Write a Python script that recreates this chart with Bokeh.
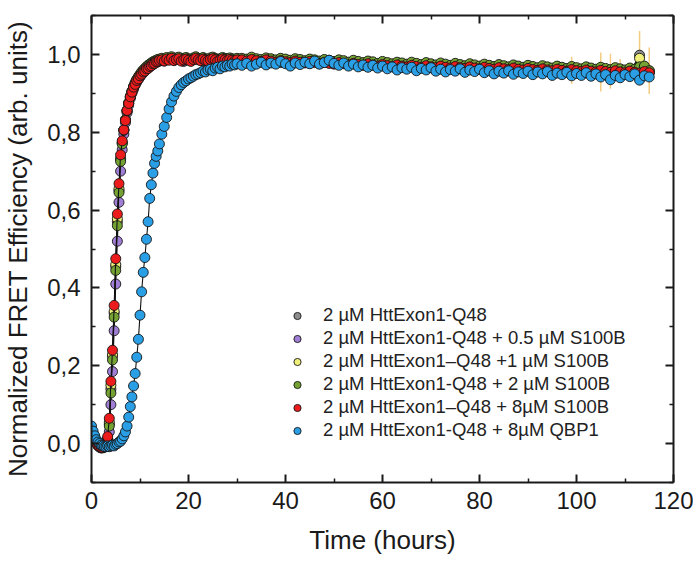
from bokeh.plotting import figure
from bokeh.models import (Range1d, LinearAxis, FixedTicker, CustomJSTickFormatter,
                          Legend, LegendItem)
from bokeh.embed import file_html
from bokeh.resources import INLINE

# ---------------- data ----------------
# time (hours)
T_RISE = [0, 0.33, 0.67, 1, 1.33, 1.67, 2, 2.33, 2.67, 3,
          3.33, 3.67, 4, 4.33, 4.67, 5, 5.33, 5.67, 6, 6.33,
          6.67, 7, 7.33, 7.67, 8, 8.33, 8.67, 9, 9.33, 9.67,
          10, 10.33, 10.67, 11, 11.33, 11.67, 12, 12.33, 12.67, 13,
          13.33, 13.67, 14]
T_MID = [14.5, 15, 15.5, 16, 16.5, 17, 17.5, 18, 18.5, 19,
         19.5, 20, 20.5, 21, 21.5, 22, 22.5, 23, 23.5, 24,
         24.5, 25, 25.5, 26, 26.5, 27, 27.5, 28, 28.5, 29,
         29.5, 30]
T_LATE = [31, 32, 33, 34, 35, 36, 37, 38, 39, 40,
          41, 42, 43, 44, 45, 46, 47, 48, 49, 50,
          51, 52, 53, 54, 55, 56, 57, 58, 59, 60,
          61, 62, 63, 64, 65, 66, 67, 68, 69, 70,
          71, 72, 73, 74, 75, 76, 77, 78, 79, 80,
          81, 82, 83, 84, 85, 86, 87, 88, 89, 90,
          91, 92, 93, 94, 95, 96, 97, 98, 99, 100,
          101, 102, 103, 104, 105, 106, 107, 108, 109, 110,
          111, 112, 113, 114, 115]
T_SPARSE = [15, 17, 19, 21, 23, 25, 27, 29, 31, 33,
            35, 37, 39, 41, 43, 45, 47, 49, 51, 53,
            55, 57, 59, 61, 63, 65, 67, 69, 71, 73,
            75, 77, 79, 81, 83, 85, 87, 89, 91, 93,
            95, 97, 99, 101, 103, 105, 107, 109, 111, 113,
            115]

# 2 µM HttExon1-Q48 (gray)
GRAY_RISE = [0.031, 0.022, 0.011, 0.003, -0.005, -0.009, -0.011, -0.010, -0.006, -0.001,
             0.012, 0.050, 0.140, 0.225, 0.335, 0.455, 0.570, 0.650, 0.730, 0.772,
             0.806, 0.832, 0.855, 0.874, 0.890, 0.903, 0.915, 0.925, 0.933, 0.940,
             0.946, 0.952, 0.957, 0.961, 0.965, 0.968, 0.971, 0.974, 0.977, 0.979,
             0.981, 0.983, 0.984]
GRAY_SPARSE = [0.985, 0.987, 0.984, 0.988, 0.985, 0.987, 0.984, 0.986, 0.983, 0.985,
               0.982, 0.984, 0.981, 0.980, 0.982, 0.979, 0.978, 0.980, 0.977, 0.975,
               0.977, 0.974, 0.972, 0.974, 0.971, 0.970, 0.972, 0.969, 0.967, 0.969,
               0.966, 0.965, 0.967, 0.964, 0.963, 0.965, 0.962, 0.961, 0.963, 0.960,
               0.959, 0.961, 0.958, 0.957, 0.959, 0.950, 0.955, 0.956, 0.954, 0.998,
               0.955]

# + 0.5 µM S100B (purple)
PURPLE_RISE = [0.032, 0.024, 0.014, 0.005, -0.003, -0.008, -0.010, -0.011, -0.009, -0.004,
               0.005, 0.030, 0.100, 0.185, 0.290, 0.410, 0.520, 0.620, 0.700, 0.755,
               0.795, 0.825, 0.850, 0.870, 0.887, 0.900, 0.911, 0.921, 0.929, 0.936,
               0.942, 0.948, 0.953, 0.957, 0.961, 0.965, 0.968, 0.971, 0.974, 0.977,
               0.979, 0.981, 0.983]
PURPLE_SPARSE = [0.983, 0.985, 0.982, 0.986, 0.983, 0.985, 0.982, 0.984, 0.981, 0.983,
                 0.980, 0.982, 0.979, 0.978, 0.980, 0.977, 0.976, 0.978, 0.975, 0.973,
                 0.975, 0.972, 0.970, 0.972, 0.969, 0.968, 0.970, 0.967, 0.965, 0.967,
                 0.964, 0.963, 0.965, 0.962, 0.961, 0.963, 0.960, 0.959, 0.961, 0.958,
                 0.957, 0.959, 0.956, 0.955, 0.957, 0.953, 0.954, 0.955, 0.952, 0.960,
                 0.953]

# +1 µM S100B (yellow)
YELLOW_RISE = [0.029, 0.021, 0.011, 0.003, -0.004, -0.008, -0.010, -0.010, -0.006, -0.001,
               0.013, 0.055, 0.150, 0.228, 0.340, 0.460, 0.578, 0.655, 0.733, 0.774,
               0.806, 0.831, 0.855, 0.875, 0.891, 0.904, 0.916, 0.926, 0.934, 0.941,
               0.947, 0.953, 0.957, 0.961, 0.965, 0.968, 0.971, 0.974, 0.977, 0.979,
               0.981, 0.983, 0.985]
YELLOW_SPARSE = [0.986, 0.988, 0.985, 0.989, 0.986, 0.988, 0.985, 0.987, 0.984, 0.986,
                 0.983, 0.985, 0.982, 0.981, 0.983, 0.980, 0.979, 0.981, 0.978, 0.976,
                 0.978, 0.975, 0.973, 0.975, 0.972, 0.971, 0.973, 0.970, 0.968, 0.970,
                 0.967, 0.966, 0.968, 0.965, 0.964, 0.966, 0.963, 0.962, 0.964, 0.961,
                 0.960, 0.962, 0.959, 0.958, 0.960, 0.955, 0.957, 0.958, 0.957, 0.990,
                 0.958]
YELLOW_ERR_T = [99, 105, 107, 109, 113, 115]
YELLOW_ERR_HALF = [0.035, 0.050, 0.045, 0.030, 0.070, 0.060]

# + 2 µM S100B (green)
GREEN_RISE = [0.028, 0.020, 0.010, 0.002, -0.005, -0.009, -0.011, -0.010, -0.007, -0.002,
              0.010, 0.045, 0.130, 0.215, 0.325, 0.445, 0.560, 0.645, 0.725, 0.770,
              0.805, 0.832, 0.856, 0.876, 0.893, 0.906, 0.918, 0.928, 0.936, 0.943,
              0.949, 0.955, 0.960, 0.964, 0.968, 0.972, 0.975, 0.978, 0.981, 0.983,
              0.985, 0.987, 0.988]
GREEN_MID = [0.990, 0.987, 0.992, 0.989, 0.994, 0.988, 0.991, 0.993, 0.987, 0.990,
             0.992, 0.989, 0.986, 0.991, 0.994, 0.990, 0.988, 0.992, 0.989, 0.987,
             0.991, 0.993, 0.990, 0.986, 0.989, 0.992, 0.990, 0.988, 0.991, 0.989,
             0.987, 0.990]
GREEN_LATE = [0.990, 0.988, 0.993, 0.989, 0.987, 0.991, 0.989, 0.986, 0.990, 0.988,
              0.985, 0.989, 0.987, 0.984, 0.988, 0.986, 0.983, 0.987, 0.985, 0.982,
              0.986, 0.984, 0.980, 0.985, 0.982, 0.979, 0.983, 0.981, 0.977, 0.982,
              0.979, 0.976, 0.980, 0.978, 0.975, 0.980, 0.977, 0.974, 0.979, 0.976,
              0.973, 0.978, 0.975, 0.972, 0.977, 0.974, 0.971, 0.976, 0.973, 0.970,
              0.975, 0.972, 0.969, 0.974, 0.971, 0.968, 0.973, 0.970, 0.967, 0.972,
              0.969, 0.966, 0.971, 0.968, 0.965, 0.970, 0.967, 0.964, 0.969, 0.966,
              0.963, 0.968, 0.965, 0.962, 0.967, 0.964, 0.961, 0.966, 0.963, 0.960,
              0.965, 0.962, 0.968, 0.970, 0.958]

# + 8 µM S100B (red)
RED_RISE = [0.030, 0.022, 0.012, 0.004, -0.004, -0.008, -0.010, -0.010, -0.006, 0.000,
            0.018, 0.065, 0.160, 0.240, 0.355, 0.475, 0.590, 0.668, 0.742, 0.778,
            0.806, 0.830, 0.856, 0.874, 0.891, 0.903, 0.916, 0.923, 0.933, 0.937,
            0.945, 0.949, 0.955, 0.957, 0.963, 0.964, 0.969, 0.971, 0.976, 0.977,
            0.981, 0.982, 0.985]
RED_MID = [0.986, 0.983, 0.988, 0.985, 0.990, 0.984, 0.987, 0.989, 0.983, 0.986,
           0.988, 0.985, 0.982, 0.987, 0.990, 0.986, 0.984, 0.988, 0.985, 0.983,
           0.987, 0.989, 0.986, 0.982, 0.985, 0.988, 0.986, 0.984, 0.987, 0.985,
           0.983, 0.986]
RED_LATE = [0.986, 0.983, 0.987, 0.984, 0.982, 0.986, 0.983, 0.980, 0.984, 0.981,
            0.979, 0.983, 0.980, 0.978, 0.982, 0.979, 0.976, 0.980, 0.977, 0.975,
            0.979, 0.976, 0.973, 0.977, 0.974, 0.972, 0.976, 0.973, 0.970, 0.974,
            0.971, 0.969, 0.973, 0.970, 0.968, 0.972, 0.969, 0.967, 0.971, 0.968,
            0.966, 0.970, 0.967, 0.965, 0.969, 0.966, 0.964, 0.968, 0.965, 0.963,
            0.967, 0.964, 0.962, 0.966, 0.963, 0.961, 0.965, 0.962, 0.960, 0.964,
            0.961, 0.959, 0.963, 0.960, 0.958, 0.962, 0.959, 0.957, 0.961, 0.958,
            0.956, 0.960, 0.957, 0.955, 0.959, 0.956, 0.954, 0.958, 0.955, 0.953,
            0.957, 0.954, 0.952, 0.956, 0.953]

# + 8 µM QBP1 (blue)
BLUE_RISE = [0.045, 0.032, 0.020, 0.010, 0.004, 0.000, -0.004, -0.006, -0.008, -0.008,
             -0.006, -0.008, -0.006, -0.004, -0.006, -0.002, 0.000, 0.004, 0.006, 0.012,
             0.020, 0.030, 0.045, 0.068, 0.095, 0.120, 0.148, 0.180, 0.222, 0.268,
             0.330, 0.390, 0.440, 0.478, 0.525, 0.570, 0.630, 0.665, 0.695, 0.720,
             0.738, 0.752, 0.770]
BLUE_MID = [0.795, 0.815, 0.838, 0.860, 0.878, 0.893, 0.905, 0.915, 0.922, 0.928,
            0.932, 0.937, 0.940, 0.944, 0.948, 0.950, 0.953, 0.957, 0.955, 0.960,
            0.962, 0.958, 0.965, 0.967, 0.963, 0.970, 0.968, 0.972, 0.970, 0.975,
            0.973, 0.976]
BLUE_LATE = [0.972, 0.977, 0.970, 0.975, 0.980, 0.973, 0.978, 0.975, 0.982, 0.976,
             0.970, 0.978, 0.974, 0.980, 0.976, 0.983, 0.975, 0.979, 0.985, 0.977,
             0.972, 0.978, 0.970, 0.975, 0.968, 0.973, 0.967, 0.972, 0.965, 0.970,
             0.963, 0.968, 0.960, 0.966, 0.962, 0.967, 0.958, 0.964, 0.960, 0.966,
             0.957, 0.962, 0.955, 0.961, 0.957, 0.963, 0.954, 0.960, 0.956, 0.962,
             0.953, 0.958, 0.950, 0.957, 0.952, 0.958, 0.949, 0.955, 0.951, 0.957,
             0.948, 0.955, 0.950, 0.956, 0.946, 0.952, 0.948, 0.954, 0.945, 0.951,
             0.946, 0.953, 0.944, 0.950, 0.942, 0.948, 0.935, 0.946, 0.940, 0.948,
             0.943, 0.950, 0.934, 0.945, 0.942]

LABELS = ["2 µM HttExon1-Q48",
          "2 µM HttExon1-Q48 + 0.5 µM S100B",
          "2 µM HttExon1\u2013Q48 +1 µM S100B",
          "2 µM HttExon1-Q48 + 2 µM S100B",
          "2 µM HttExon1\u2013Q48 + 8µM S100B",
          "2 µM HttExon1-Q48 + 8µM QBP1"]
COLORS = ["#8c8c8c", "#a07ed6", "#eeee78", "#74a333", "#ec1c1c", "#2a9fe5"]

X_MAJOR = [0, 20, 40, 60, 80, 100, 120]
X_MINOR = [10, 30, 50, 70, 90, 110]
Y_MAJOR = [0.0, 0.2, 0.4, 0.6, 0.8, 1.0]
Y_MINOR = [-0.1, 0.1, 0.3, 0.5, 0.7, 0.9, 1.1]

# ---------------- assemble ----------------
T_FINE = T_RISE + T_MID + T_LATE
T_COARSE = T_RISE + T_SPARSE
SERIES_T = [T_COARSE, T_COARSE, T_COARSE, T_FINE, T_FINE, T_FINE]
SERIES_Y = [GRAY_RISE + GRAY_SPARSE,
            PURPLE_RISE + PURPLE_SPARSE,
            YELLOW_RISE + YELLOW_SPARSE,
            GREEN_RISE + GREEN_MID + GREEN_LATE,
            RED_RISE + RED_MID + RED_LATE,
            BLUE_RISE + BLUE_MID + BLUE_LATE]

FONT = "Liberation Sans"
INK = "#1a1a1a"

p = figure(frame_width=582, frame_height=467, output_backend="svg",
           toolbar_location=None,
           x_range=Range1d(0, 120), y_range=Range1d(-0.1, 1.1),
           min_border_left=91, min_border_right=20, min_border_top=15,
           min_border_bottom=60)
p.xgrid.visible = False
p.ygrid.visible = False
p.outline_line_color = None
p.background_fill_color = "white"
p.border_fill_color = "white"

xt = FixedTicker(ticks=X_MAJOR, minor_ticks=X_MINOR)
yt = FixedTicker(ticks=Y_MAJOR, minor_ticks=Y_MINOR)


def style(ax, labels=True):
    ax.axis_line_width = 2
    ax.axis_line_color = INK
    ax.major_tick_in = 8
    ax.major_tick_out = 0
    ax.minor_tick_in = 4
    ax.minor_tick_out = 0
    ax.major_tick_line_width = 2
    ax.minor_tick_line_width = 1.5
    ax.major_tick_line_color = INK
    ax.minor_tick_line_color = INK
    ax.major_label_text_font = FONT
    ax.major_label_text_font_size = "24px"
    ax.major_label_text_color = INK
    ax.major_label_standoff = 9
    ax.axis_label_text_font = FONT
    ax.axis_label_text_font_size = "26px"
    ax.axis_label_text_font_style = "normal"
    ax.axis_label_text_color = INK
    if not labels:
        ax.formatter = CustomJSTickFormatter(code="return '';")
        ax.major_label_standoff = 0


xa = p.xaxis[0]
xa.ticker = xt
style(xa)
xa.axis_label = "Time (hours)"
xa.axis_label_standoff = 13

ya = p.yaxis[0]
ya.ticker = yt
style(ya)
ya.major_label_standoff = 11
ya.formatter = CustomJSTickFormatter(code="return tick.toFixed(1).replace('.', ',');")
ya.axis_label = "Normalized FRET Efficiency (arb. units)"
ya.axis_label_standoff = 11

top = LinearAxis(ticker=xt)
style(top, labels=False)
p.add_layout(top, "above")
right = LinearAxis(ticker=yt)
style(right, labels=False)
p.add_layout(right, "right")

# error bars of the +1 µM series
ylookup = dict(zip(T_COARSE, SERIES_Y[2]))
err_c = [ylookup[t] for t in YELLOW_ERR_T]
p.segment(x0=YELLOW_ERR_T, x1=YELLOW_ERR_T,
          y0=[c - h for c, h in zip(err_c, YELLOW_ERR_HALF)],
          y1=[c + h for c, h in zip(err_c, YELLOW_ERR_HALF)],
          line_color="#f2cc80", line_width=1.5)

items = []
for lab, col, tt, yy in zip(LABELS, COLORS, SERIES_T, SERIES_Y):
    p.line(tt, yy, line_color="#111111", line_width=1.1)
    r = p.scatter(tt, yy, size=10, fill_color=col, line_color="#151515",
                  line_width=0.9)
    items.append(LegendItem(label=lab, renderers=[r]))

legend = Legend(items=items, location=(197, 41), glyph_width=18, glyph_height=21,
                label_height=21, spacing=1, label_standoff=17, padding=0, margin=0,
                background_fill_alpha=0, border_line_color=None,
                label_text_font=FONT, label_text_font_size="18.5px",
                label_text_color="#222222")
p.add_layout(legend)

with open("out.html", "w", encoding="utf-8") as f:
    f.write(file_html(p, INLINE))
